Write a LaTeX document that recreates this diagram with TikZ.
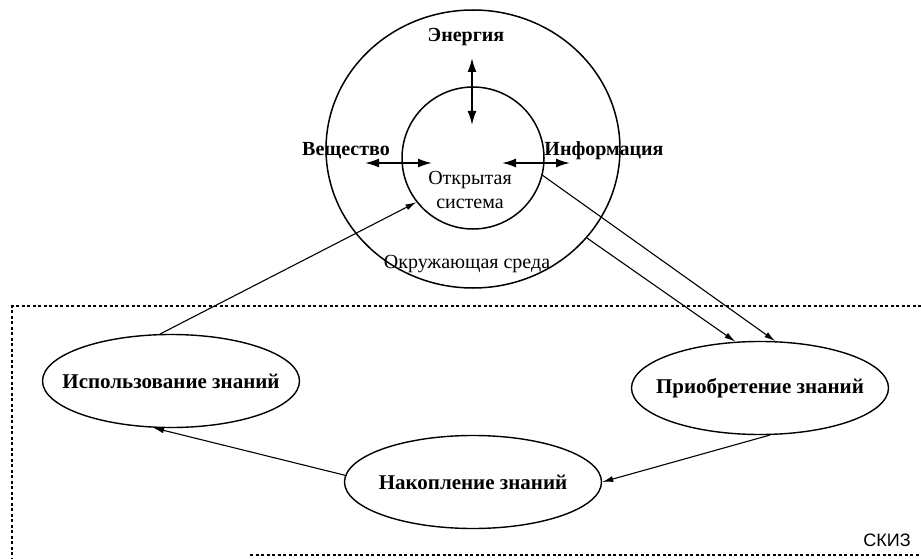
\documentclass[tikz,border=0pt]{standalone}
\usepackage{fontspec}
\setmainfont{Liberation Serif}
\newfontfamily\skizfont{Liberation Sans}
\usetikzlibrary{arrows.meta,shapes.geometric}

\begin{document}
\begin{tikzpicture}[x=1pt, y=-1pt, line width=1.1pt,
    every node/.style={font=\fontsize{20}{24}\selectfont},
    tag/.style={font=\fontsize{20}{24}\selectfont\bfseries},
    ring/.style={ellipse, draw, line width=1.5pt, inner sep=0pt},
    stage/.style={ellipse, draw, line width=1.4pt, inner xsep=-25pt, inner ysep=0pt, minimum width=257pt, minimum height=93pt, font=\fontsize{21}{25}\selectfont\bfseries},
    flow/.style={-{Latex[length=11pt,width=6pt]}},
    exchange/.style={{Latex[length=14pt,width=9pt]}-{Latex[length=14pt,width=9pt]}, line width=1.8pt},
    frame/.style={dash pattern=on 3pt off 2.5pt, line width=1.2pt}]
    \useasboundingbox (0,0) rectangle (921,559);

    % environment and open system
    \node[ring, minimum width=294pt, minimum height=278pt] (env) at (473,149) {};
    \node[ring, minimum size=142pt] (sys) at (473,158) {};
    \node[align=center] (syslabel) at (470,190) {Открытая\\система};
    \node (envlabel) at (467,264) {Окружающая среда};
    \node[tag] (energy) at (466,37) {Энергия};
    \node[tag] (matter) at (346,151) {Вещество};
    \node[tag] (info) at (604,151) {Информация};

    \coordinate (eTop) at (472,58);
    \coordinate (eBot) at (472,125);
    \coordinate (mOut) at (365,163);
    \coordinate (mIn) at (432,163);
    \coordinate (iIn) at (502,163);
    \coordinate (iOut) at (570,163);
    \draw[exchange] (eTop) -- (eBot);
    \draw[exchange] (mOut) -- (mIn);
    \draw[exchange] (iIn) -- (iOut);

    % knowledge cycle
    \draw[frame] (921,306) -- (12,306) -- (12,559);
    \draw[frame] (250,555) -- (921,555);
    \node[stage] (use) at (171,381) {Использование знаний};
    \node[stage] (gain) at (760,388) {Приобретение знаний};
    \node[stage] (store) at (473,482) {Накопление знаний};

    \draw[flow] (use.103) -- (sys.218);
    \draw[flow] (sys.-14) -- (gain.72);
    \draw[flow] (env.-38) -- (gain.118);
    \draw[flow] (gain.-78) -- (store.east);
    \draw[flow] (store.177) -- (use.249);

    \node[font=\skizfont\fontsize{18}{20}\selectfont] (skiz) at (887,540) {СКИЗ};
\end{tikzpicture}
\end{document}
